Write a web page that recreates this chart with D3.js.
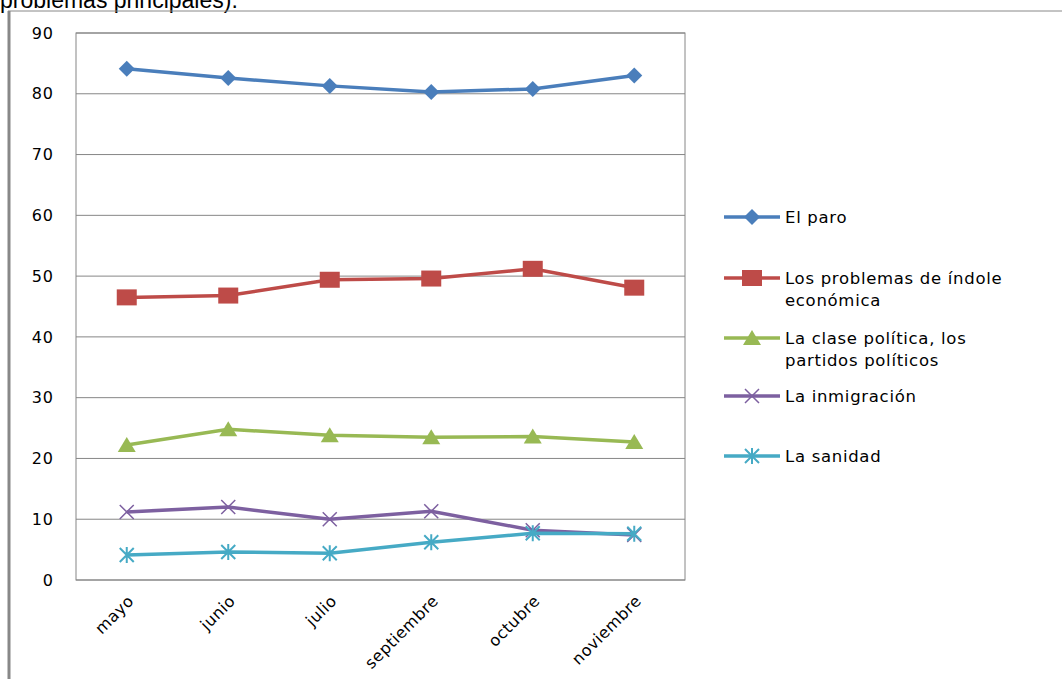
<!DOCTYPE html>
<html><head><meta charset="utf-8">
<script src="https://cdn.jsdelivr.net/npm/d3@7"></script>
<style>body{margin:0;background:#fff}</style></head>
<body><svg width="1062" height="679"></svg>
<script>
var months = ["mayo", "junio", "julio", "septiembre", "octubre", "noviembre"]
var paro = [84.1, 82.6, 81.3, 80.3, 80.8, 83.0]
var economica = [46.5, 46.8, 49.4, 49.6, 51.2, 48.1]
var politica = [22.2, 24.8, 23.8, 23.5, 23.6, 22.7]
var inmigracion = [11.2, 12.0, 10.0, 11.3, 8.2, 7.4]
var sanidad = [4.1, 4.6, 4.4, 6.2, 7.7, 7.6]
var yTicks = [0, 10, 20, 30, 40, 50, 60, 70, 80, 90]

var series = [
	{name: ["El paro"], values: paro, color: "#4a7ebb", marker: "diamond"},
	{name: ["Los problemas de índole", "económica"], values: economica, color: "#be4b48", marker: "square"},
	{name: ["La clase política, los", "partidos políticos"], values: politica, color: "#98b954", marker: "triangle"},
	{name: ["La inmigración"], values: inmigracion, color: "#7d60a0", marker: "x"},
	{name: ["La sanidad"], values: sanidad, color: "#46aac5", marker: "star"}
]

var margin = {top: 33, left: 76}, width = 609, height = 547
var svg = d3.select("svg")
var font = "DejaVu Sans"

svg.append("text").attr("x", 0).attr("y", 8).style("font-family", "Liberation Sans, Arial")
	.style("font-size", "23px").text("problemas principales).")
svg.append("line").attr("x1", 8).attr("x2", 1062).attr("y1", 11).attr("y2", 11).attr("stroke", "#888").attr("stroke-width", 1)
svg.append("line").attr("x1", 9).attr("x2", 9).attr("y1", 11).attr("y2", 679).attr("stroke", "#888").attr("stroke-width", 3)

var g = svg.append("g").attr("transform", "translate(" + margin.left + "," + margin.top + ")")
var x = d3.scalePoint().domain(months).range([0, width]).padding(0.5)
var y = d3.scaleLinear().domain([0, 90]).range([height, 0])

// grid
g.selectAll(".grid").data(yTicks).enter().append("line")
	.attr("x1", 0).attr("x2", width).attr("y1", d => y(d)).attr("y2", d => y(d))
	.attr("stroke", "#868686").attr("stroke-width", 1)
g.append("rect").attr("width", width).attr("height", height).attr("fill", "none").attr("stroke", "#868686")

var yAxis = g.append("g").call(d3.axisLeft(y).tickValues(yTicks).tickSize(0).tickPadding(22))
yAxis.select(".domain").remove()
yAxis.selectAll("text").style("font-family", font).style("font-size", "16px")
	.style("letter-spacing", "1px").attr("fill", "#000")

g.selectAll(".xl").data(months).enter().append("text")
	.attr("transform", d => "translate(" + (x(d) + 8) + "," + (height + 22) + ") rotate(-45)")
	.attr("text-anchor", "end").style("font-family", font).style("font-size", "16px")
	.style("letter-spacing", "0.5px").text(d => d)

function drawMarker(sel, type, color) {
	if (type == "diamond") sel.append("path").attr("d", "M0,-8L8,0L0,8L-8,0Z").attr("fill", color)
	else if (type == "square") sel.append("rect").attr("x", -10).attr("y", -8).attr("width", 20).attr("height", 16).attr("fill", color)
	else if (type == "triangle") sel.append("path").attr("d", "M0,-8L9,7L-9,7Z").attr("fill", color)
	else if (type == "x") sel.append("path").attr("d", "M-7,-7L7,7M-7,7L7,-7").attr("stroke", color).attr("stroke-width", 1.5)
	else sel.append("path").attr("d", "M-7,-7L7,7M-7,7L7,-7M0,-8V8").attr("stroke", color).attr("stroke-width", 2)
}

var line = d3.line().x((d, i) => x(months[i])).y(d => y(d))
series.forEach(function (s) {
	g.append("path").datum(s.values).attr("d", line).attr("fill", "none")
		.attr("stroke", s.color).attr("stroke-width", 3.5)
	s.values.forEach(function (v, i) {
		drawMarker(g.append("g").attr("transform", "translate(" + x(months[i]) + "," + y(v) + ")"), s.marker, s.color)
	})
})

// legend
var legY = [217, 278, 338, 396, 456]
series.forEach(function (s, i) {
	var lg = svg.append("g").attr("transform", "translate(724," + legY[i] + ")")
	lg.append("line").attr("x1", 0).attr("x2", 56).attr("stroke", s.color).attr("stroke-width", 3.5)
	drawMarker(lg.append("g").attr("transform", "translate(28,0)"), s.marker, s.color)
	s.name.forEach(function (t, j) {
		lg.append("text").attr("x", 61).attr("y", 6 + j * 22).style("font-family", font)
			.style("font-size", "16.5px").style("letter-spacing", "0.7px").text(t)
	})
})
</script></body></html>
